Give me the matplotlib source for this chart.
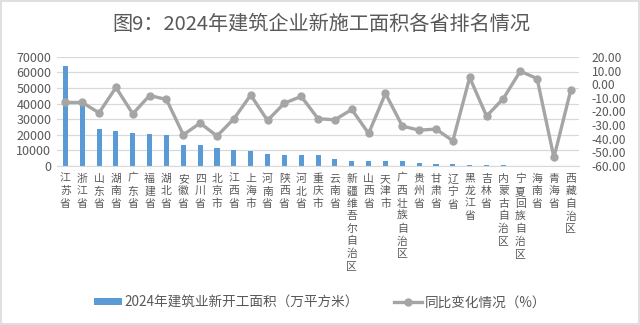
import numpy as np
import matplotlib.pyplot as plt
from matplotlib.lines import Line2D
from matplotlib.patches import Patch

plt.rcParams['font.family'] = ['Noto Sans CJK SC', 'DejaVu Sans']

provinces = ['江苏省', '浙江省', '山东省', '湖南省', '广东省', '福建省', '湖北省', '安徽省',
             '四川省', '北京市', '江西省', '上海市', '河南省', '陕西省', '河北省', '重庆市',
             '云南省', '新疆维吾尔自治区', '山西省', '天津市', '广西壮族自治区', '贵州省',
             '甘肃省', '辽宁省', '黑龙江省', '吉林省', '内蒙古自治区', '宁夏回族自治区',
             '海南省', '青海省', '西藏自治区']

# 2024 new construction area, 10k m2
new_area = [64200, 40500, 23900, 22800, 21300, 20300, 19800, 13400,
            13400, 11300, 10000, 9600, 7700, 7300, 7200, 7000,
            4300, 3400, 3400, 3000, 3000, 1700,
            1300, 1300, 1000, 800, 700, 300,
            300, 200, 100]

# year-on-year change, %
yoy = [-13.4, -13.4, -21.0, -2.4, -21.7, -8.3, -11.2, -37.1,
       -28.5, -38.0, -25.4, -8.0, -26.6, -13.9, -9.0, -25.3,
       -26.1, -18.5, -36.1, -6.8, -30.7, -33.7,
       -32.9, -41.5, 4.9, -23.4, -10.5, 9.5,
       4.1, -53.7, -4.4]

BAR = '#5B9BD5'
LINE = '#A5A5A5'
TXT = '#595959'
GRID = '#D9D9D9'

fig = plt.figure(figsize=(6.4, 3.25), dpi=100)
fig.patches.append(plt.Rectangle((0.002, 0.003), 0.996, 0.994, transform=fig.transFigure,
                                 fill=False, edgecolor='#D9D9D9', linewidth=1.2))

ax = fig.add_axes([0.089, 0.489, 0.816, 0.336])
x = np.arange(len(provinces))
ax.bar(x, new_area, width=0.3, color=BAR, zorder=2)
ax.set_xlim(-0.5, len(provinces) - 0.5)
ax.set_ylim(0, 70000)
ax.set_yticks(np.arange(0, 70001, 10000))
ax.yaxis.grid(True, color=GRID, linewidth=0.9, zorder=0)
ax.set_axisbelow(True)
for s in ['top', 'left', 'right']:
    ax.spines[s].set_visible(False)
ax.spines['bottom'].set_color(GRID)
ax.tick_params(axis='y', length=0, labelsize=9, labelcolor=TXT, pad=4)
ax.tick_params(axis='x', length=0)
ax.set_xticks(x)
ax.set_xticklabels([])

# stacked vertical province names
for xi, name in zip(x, provinces):
    ax.text(xi, -0.07, '\n'.join(name), transform=ax.get_xaxis_transform(),
            ha='center', va='top', fontsize=7.8, color=TXT, linespacing=1.3)

ax2 = ax.twinx()
ax2.plot(x, yoy, color=LINE, linewidth=2.4, marker='o', markersize=5, zorder=3)
ax2.set_ylim(-60, 20)
ax2.set_yticks(np.arange(-60, 21, 10))
ax2.set_yticklabels([f'{v:.2f}' for v in np.arange(-60, 21, 10)])
for s in ['top', 'left', 'right', 'bottom']:
    ax2.spines[s].set_visible(False)
ax2.tick_params(axis='y', length=0, labelsize=8.7, labelcolor=TXT, pad=9)

fig.text(0.502, 0.926, '图9：2024年建筑企业新施工面积各省排名情况', ha='center', va='center',
         fontsize=14.5, color=TXT)

handles = [Patch(facecolor=BAR, edgecolor='none'),
           Line2D([0], [0], color=LINE, linewidth=2.4, marker='o', markersize=5)]
labels = ['2024年建筑业新开工面积（万平方米）', '同比变化情况（%）']
fig.legend(handles, labels, loc='center', bbox_to_anchor=(0.5, 0.07), ncol=2,
           frameon=False, fontsize=9.8, labelcolor=TXT, handlelength=2.05,
           handleheight=0.5, handletextpad=0.2, columnspacing=2.6)

fig.savefig('out.png', dpi=100)
